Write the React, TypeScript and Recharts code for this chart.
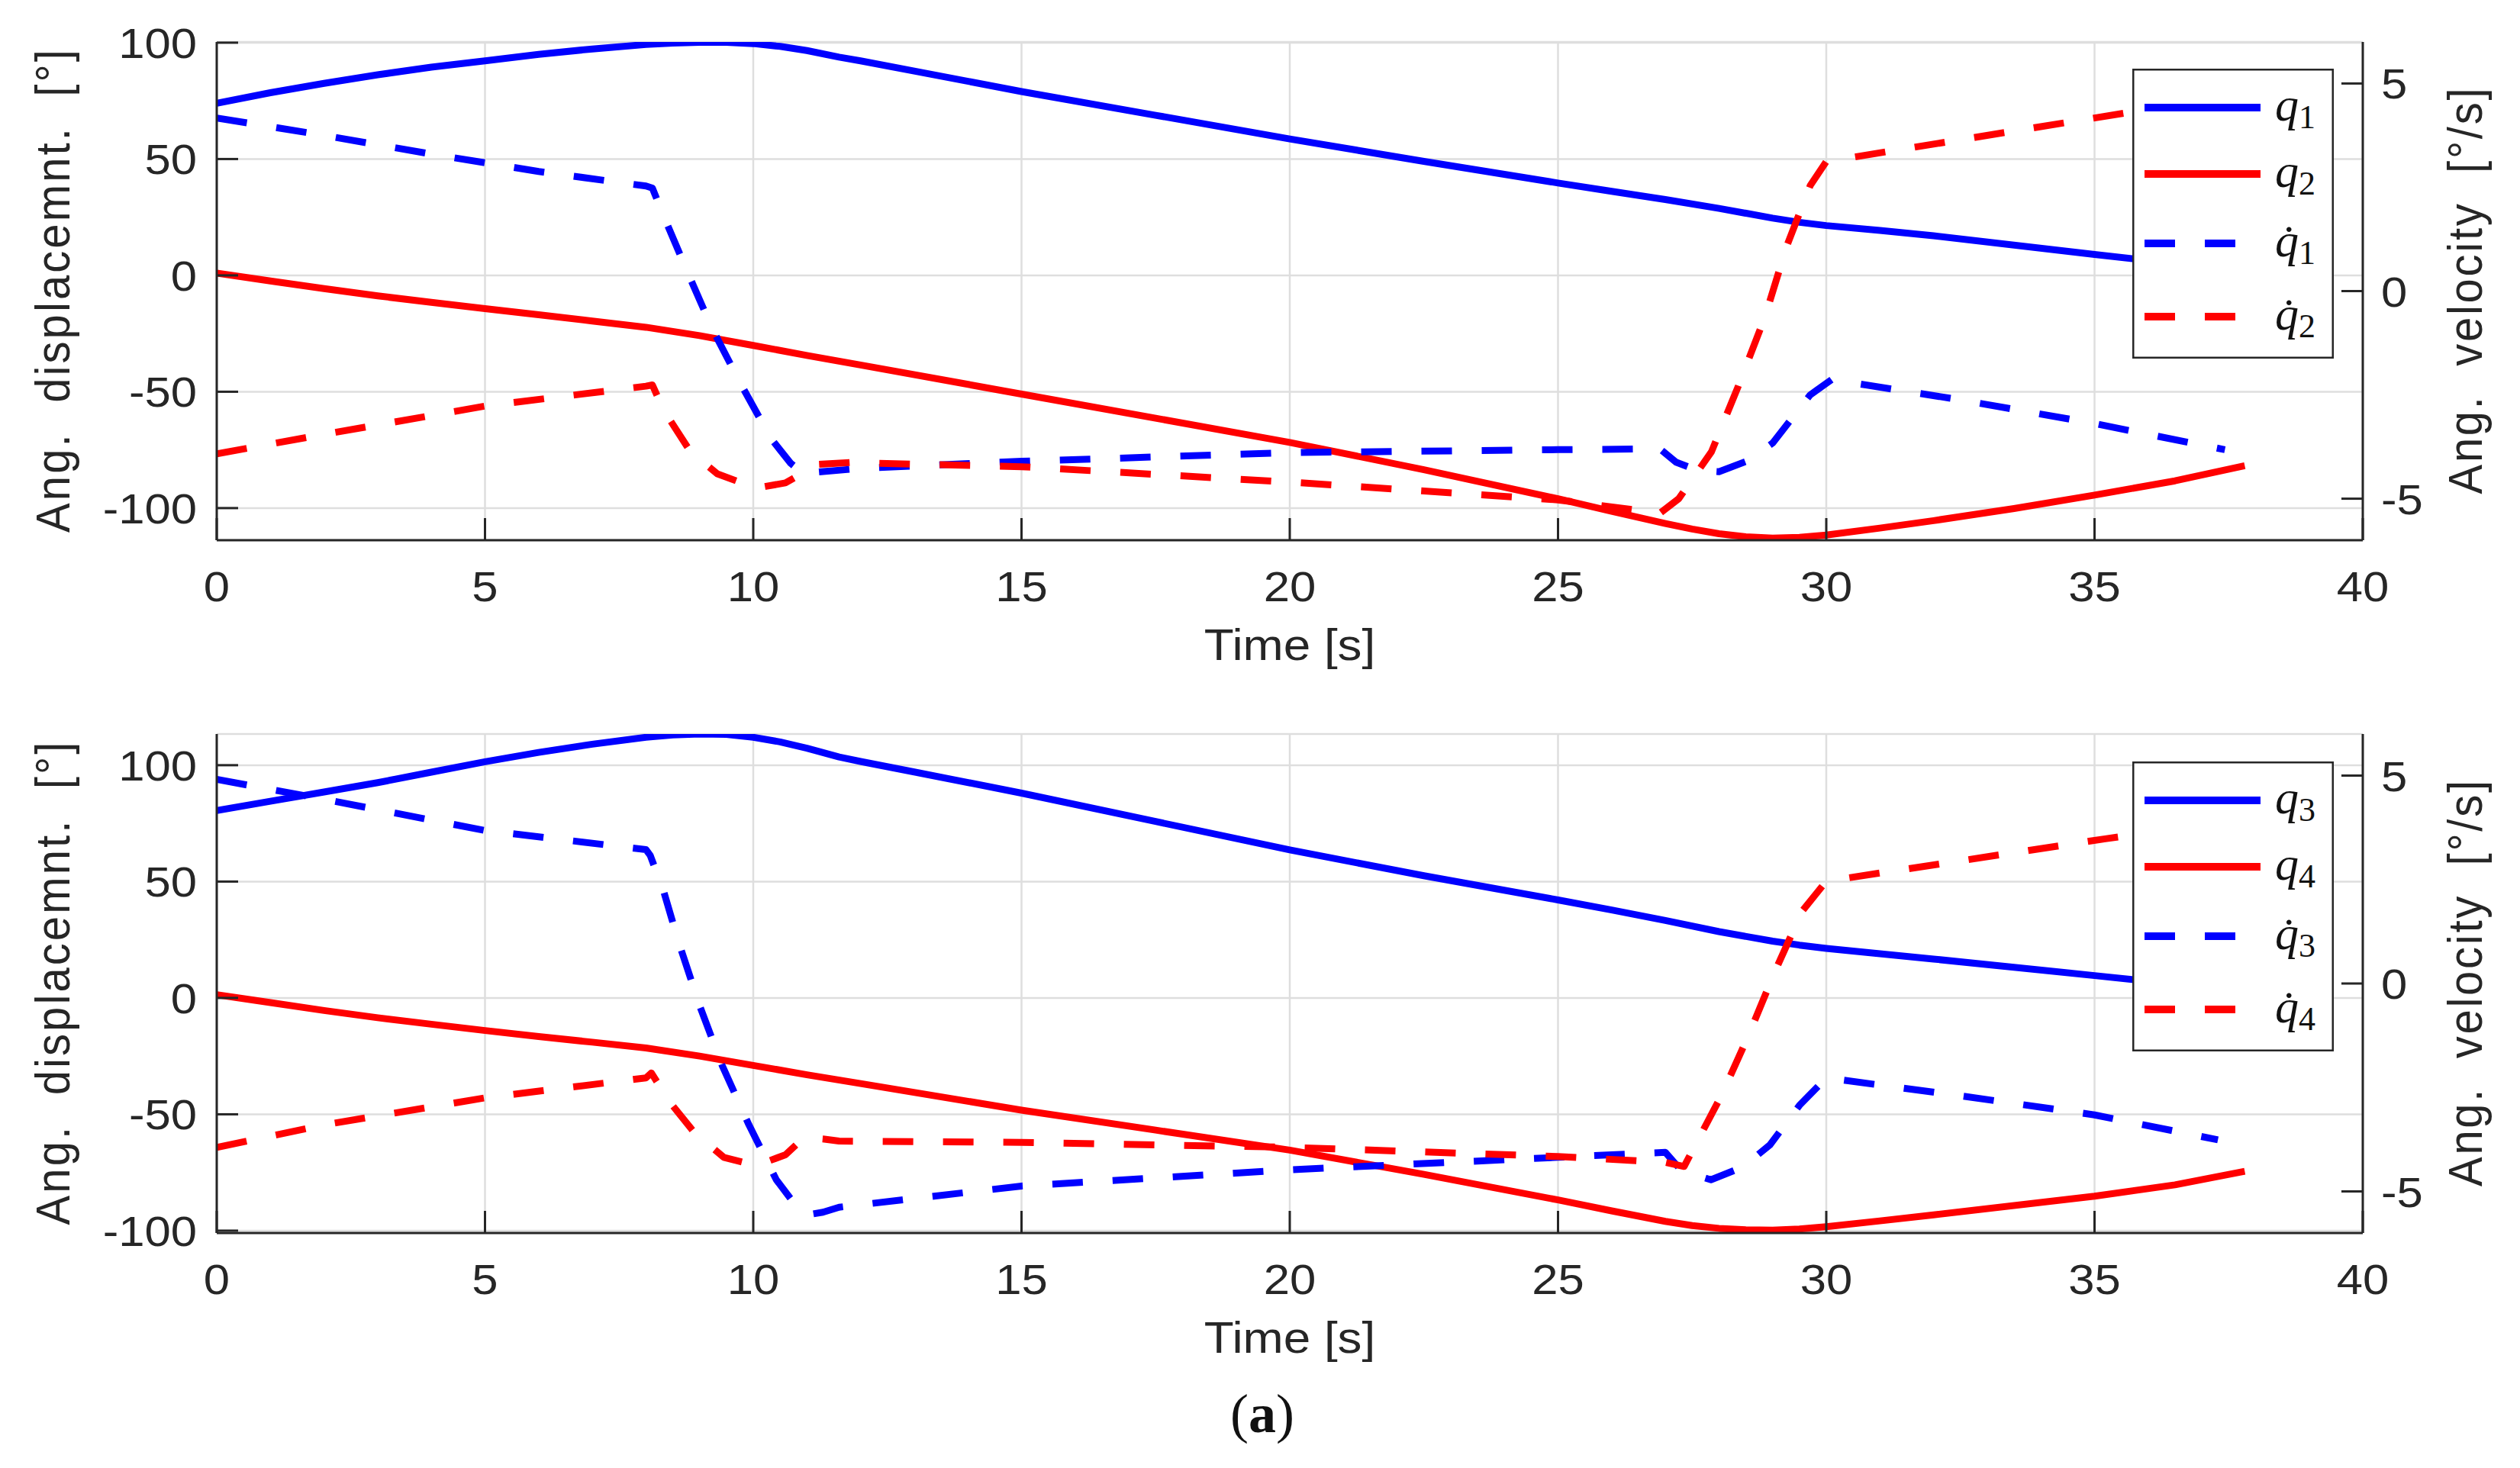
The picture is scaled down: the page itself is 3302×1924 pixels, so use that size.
import React from 'react';
import { LineChart, Line, XAxis, YAxis, CartesianGrid, Legend } from 'recharts';

type Pt = [number, number];

// axis ticks
const timeTicks = [0, 5, 10, 15, 20, 25, 30, 35, 40];
const angleTicks = [-100, -50, 0, 50, 100];
const velocityTicks = [-5, 0, 5];

// upper plot: joints 1 and 2  ([time s, value])
const q1: Pt[] = [
  [0, 74], [1, 78.5], [2, 82.5], [3, 86.2], [4, 89.5], [5, 92.2], [6, 95], [7, 97.3], [8, 99.2],
  [8.5, 99.8], [9, 100.1], [9.5, 100.1], [10, 99.6], [10.5, 98.4], [11, 96.6], [11.6, 93.8], [12, 92.2],
  [13, 87.8], [15, 79], [17.5, 68.8], [20, 58.6], [22.5, 49], [25, 39.7], [26, 36.1], [27, 32.6],
  [28, 28.8], [29, 24.6], [29.5, 22.8], [30, 21.4], [31, 19.3], [32, 17], [35, 9], [37.8, 1.8],
];
const q2: Pt[] = [
  [0, 1], [1, -2.4], [2, -5.7], [3, -8.8], [4, -11.6], [5, -14.3], [6, -16.9], [7, -19.6], [8, -22.3],
  [9, -25.9], [10, -30.1], [11, -34.4], [12, -38.5], [15, -51], [17.5, -61.4], [20, -71.8], [22.5, -83.5],
  [25, -96], [26, -101.4], [27, -106.6], [27.5, -109], [28, -111], [28.5, -112.3], [29, -112.9],
  [29.5, -112.6], [30, -111.6], [31, -108.6], [32, -105.4], [33.5, -100.2], [35, -94.4], [36.5, -88.3],
  [37.8, -81.8],
];
const dq1: Pt[] = [
  [0, 4.17], [2, 3.75], [4, 3.3], [6, 2.88], [8, 2.53], [8.12, 2.48], [8.33, 1.81], [8.78, 0.44],
  [9.24, -0.92], [9.79, -2.29], [10.33, -3.55], [10.7, -4.15], [10.99, -4.45], [11.2, -4.36], [12, -4.27],
  [15, -4.1], [20, -3.89], [25, -3.82], [26.9, -3.8], [27.2, -4.12], [27.6, -4.32], [28, -4.35],
  [28.55, -4.08], [29, -3.66], [29.7, -2.5], [30.1, -2.13], [32.5, -2.62], [35, -3.19], [37.43, -3.82],
];
const dq2: Pt[] = [
  [0, -3.92], [2, -3.45], [5, -2.77], [8, -2.29], [8.12, -2.26], [8.33, -2.87], [8.83, -3.87],
  [9.33, -4.4], [9.93, -4.69], [10.2, -4.71], [10.6, -4.62], [10.9, -4.4], [11.1, -4.18], [11.8, -4.13],
  [15, -4.23], [20, -4.6], [25, -5.03], [26.9, -5.35], [27.25, -5.0], [27.86, -3.87], [28.36, -2.29],
  [28.86, -0.61], [29.26, 1.07], [29.7, 2.54], [30, 3.12], [35, 4.17], [37.8, 4.75],
];

// lower plot: joints 3 and 4
const q3: Pt[] = [
  [0, 80.5], [1, 84.5], [2, 88.5], [3, 92.5], [4, 97], [5, 101.5], [6, 105.5], [7, 109], [8, 112],
  [8.5, 113], [9, 113.4], [9.5, 113.2], [10, 112], [10.5, 110], [11, 107.3], [11.6, 103.5], [12, 101.6],
  [13, 97.1], [15, 88], [17.5, 75.8], [20, 63.6], [22.5, 52.5], [25, 42.1], [26, 37.8], [27, 33.3],
  [28, 28.5], [29, 24.4], [29.5, 22.7], [30, 21.3], [31, 19], [32, 16.7], [35, 9.6], [36.5, 6], [37.8, 2.5],
];
const q4: Pt[] = [
  [0, 1.4], [1, -2], [2, -5.4], [3, -8.5], [4, -11.3], [5, -14], [6, -16.6], [7, -19], [8, -21.5],
  [9, -25], [10, -29], [11, -33], [12, -36.8], [15, -48.2], [17.5, -56.8], [20, -65.4], [22.5, -75.8],
  [25, -86.8], [26, -91.5], [27, -96], [27.5, -97.8], [28, -99], [28.5, -99.6], [29, -99.8], [29.5, -99.3],
  [30, -98.3], [31, -95.8], [32, -93.2], [35, -85.2], [36.5, -80.3], [37.8, -74.5],
];
const dq3: Pt[] = [
  [0, 4.91], [2, 4.43], [5, 3.68], [8, 3.22], [8.08, 3.08], [8.33, 2.22], [8.6, 1.03], [9, -0.53],
  [9.42, -1.97], [9.92, -3.4], [10.43, -4.72], [10.8, -5.35], [11.03, -5.56], [11.3, -5.5], [11.6, -5.38],
  [15, -4.87], [20, -4.48], [25, -4.18], [27, -4.06], [27.3, -4.5], [27.85, -4.72], [28.45, -4.41],
  [28.95, -3.88], [29.5, -2.93], [30, -2.27], [32.5, -2.7], [35, -3.16], [37.3, -3.76],
];
const dq4: Pt[] = [
  [0, -3.94], [2, -3.4], [5, -2.75], [8, -2.27], [8.1, -2.15], [8.45, -2.86], [8.9, -3.58], [9.45, -4.18],
  [10.05, -4.38], [10.6, -4.12], [10.95, -3.7], [11.3, -3.74], [11.6, -3.79], [15, -3.82], [20, -3.94],
  [25, -4.16], [27, -4.3], [27.35, -4.4], [28.05, -2.68], [28.55, -1.25], [29.05, 0.31], [29.55, 1.74],
  [30, 2.46], [35.2, 3.48], [37.8, 3.95],
];

const BLUE = '#0000ff';
const RED = '#ff0000';
const INK = '#262626';
const GRID = '#dedede';
const SANS = '"Liberation Sans", Arial, sans-serif';
const SERIF = '"Liberation Serif", "Times New Roman", serif';
const SX = 1.1; // the published figure is a bit stretched sideways

const W = 3302;
const DASH = '40 39';

type Series = { key: string; sub: string; dot: boolean; color: string; axis: 'deg' | 'vel'; pts: Pt[] };

const topSeries: Series[] = [
  { key: 'q1', sub: '1', dot: false, color: BLUE, axis: 'deg', pts: q1 },
  { key: 'q2', sub: '2', dot: false, color: RED, axis: 'deg', pts: q2 },
  { key: 'dq1', sub: '1', dot: true, color: BLUE, axis: 'vel', pts: dq1 },
  { key: 'dq2', sub: '2', dot: true, color: RED, axis: 'vel', pts: dq2 },
];
const bottomSeries: Series[] = [
  { key: 'q3', sub: '3', dot: false, color: BLUE, axis: 'deg', pts: q3 },
  { key: 'q4', sub: '4', dot: false, color: RED, axis: 'deg', pts: q4 },
  { key: 'dq3', sub: '3', dot: true, color: BLUE, axis: 'vel', pts: dq3 },
  { key: 'dq4', sub: '4', dot: true, color: RED, axis: 'vel', pts: dq4 },
];

const XTick = (p: any) => (
  <text transform={`translate(${p.x} ${p.y + 80}) scale(${SX} 1)`} textAnchor="middle"
    fontFamily={SANS} fontSize={56} fill={INK}>{p.payload.value}</text>
);
const LeftTick = (p: any) => (
  <text transform={`translate(${p.x} ${p.y + 20}) scale(${SX} 1)`} textAnchor="end"
    fontFamily={SANS} fontSize={56} fill={INK}>{p.payload.value}</text>
);
const RightTick = (p: any) => (
  <text transform={`translate(${p.x} ${p.y + 20}) scale(${SX} 1)`} textAnchor="start"
    fontFamily={SANS} fontSize={56} fill={INK}>{p.payload.value}</text>
);

const VTitle = ({ text, px, py, len }: any) => (
  <text transform={`translate(${px} ${py}) rotate(-90) scale(1 ${SX})`} textAnchor="middle"
    fontFamily={SANS} fontSize={58} fill={INK} textLength={len} lengthAdjust="spacing"
    style={{ whiteSpace: 'pre' }}>{text}</text>
);
const HTitle = ({ text, px, py }: any) => (
  <text transform={`translate(${px} ${py}) scale(${SX} 1)`} textAnchor="middle"
    fontFamily={SANS} fontSize={58} fill={INK}>{text}</text>
);

const legendRows = [51, 138, 229, 325];

const LegendBox = ({ items }: { items: Series[] }) => (
  <svg width={264} height={380} style={{ display: 'block' }}>
    <rect x={1.25} y={1.25} width={261.5} height={377.5} fill="#fff" stroke={INK} strokeWidth={2.5} />
    {items.map((s, i) => (
      <g key={s.key}>
        <line x1={16} x2={168} y1={legendRows[i]} y2={legendRows[i]} stroke={s.color} strokeWidth={10}
          strokeDasharray={s.dot ? DASH : undefined} />
        <text x={187} y={legendRows[i] + 17} fontFamily={SERIF} fontSize={62} fill="#111">
          <tspan fontStyle="italic">{s.dot ? 'q\u0307' : 'q'}</tspan>
          <tspan fontSize={44} dy={10}>{s.sub}</tspan>
        </text>
      </g>
    ))}
  </svg>
);

type PanelProps = {
  series: Series[];
  degDomain: [number, number];
  top: number;
  height: number;
  plotTop: number;
  plotBottom: number;
  legendTop: number;
};

function Panel({ series, degDomain, top, height, plotTop, plotBottom, legendTop }: PanelProps) {
  const midY = (plotTop + plotBottom) / 2;
  const axisStyle = { stroke: INK, strokeWidth: 3 };
  return (
    <div style={{ position: 'absolute', left: 0, top, width: W, height }}>
      <LineChart width={W} height={height} margin={{ top: plotTop, right: 0, bottom: 0, left: 0 }}>
        <CartesianGrid xAxisId="t" yAxisId="deg" stroke={GRID} strokeWidth={2.5} />
        <XAxis xAxisId="t" dataKey="t" type="number" domain={[0, 40]} ticks={timeTicks} interval={0}
          allowDataOverflow height={height - plotBottom} tickSize={-29} tickMargin={29}
          axisLine={axisStyle} tickLine={axisStyle} tick={XTick}
          label={<HTitle text="Time [s]" px={1690} py={plotBottom + 157} />} />
        <YAxis yAxisId="deg" orientation="left" type="number" domain={degDomain} ticks={angleTicks}
          interval={0} allowDataOverflow width={284} tickSize={-28} tickMargin={54}
          axisLine={axisStyle} tickLine={axisStyle} tick={LeftTick}
          label={<VTitle text={'Ang.  displacemnt.  [°]'} px={91} py={midY} len={633} />} />
        <YAxis yAxisId="vel" orientation="right" type="number" domain={[-6, 6]} ticks={velocityTicks}
          interval={0} allowDataOverflow width={206} tickSize={-28} tickMargin={52}
          axisLine={axisStyle} tickLine={axisStyle} tick={RightTick}
          label={<VTitle text={'Ang.  velocity  [°/s]'} px={3252} py={midY} len={532} />} />
        {series.map((s) => (
          <Line key={s.key} xAxisId="t" yAxisId={s.axis} data={s.pts.map(([t, v]) => ({ t, v }))}
            dataKey="v" type="linear" stroke={s.color} strokeWidth={9} strokeLinejoin="round"
            strokeDasharray={s.dot ? DASH : undefined} dot={false} activeDot={false}
            isAnimationActive={false} />
        ))}
        <Legend layout="horizontal" verticalAlign="middle" align="center"
          wrapperStyle={{ position: 'absolute', left: 2794, top: legendTop, width: 264, height: 380 }}
          content={() => <LegendBox items={series} />} />
      </LineChart>
    </div>
  );
}

export default function App() {
  return (
    <div style={{ position: 'absolute', left: 0, top: 0, width: W, height: 1924, background: '#fff' }}>
      <Panel series={topSeries} degDomain={[-113.8, 100.3]} top={0} height={880}
        plotTop={55} plotBottom={708} legendTop={90} />
      <Panel series={bottomSeries} degDomain={[-101, 113.4]} top={900} height={1024}
        plotTop={62} plotBottom={716} legendTop={98} />
      <svg style={{ position: 'absolute', left: 0, top: 1780 }} width={W} height={144}>
        <text x={1654} y={97} textAnchor="middle" fontFamily={SERIF} fontSize={72} fill="#111">
          (<tspan fontWeight="bold">a</tspan>)
        </text>
      </svg>
    </div>
  );
}
